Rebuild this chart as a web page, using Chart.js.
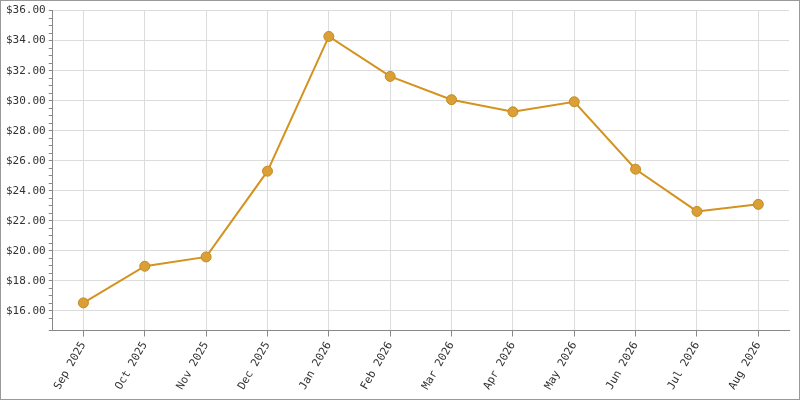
<!DOCTYPE html>
<html><head><script src="https://cdn.jsdelivr.net/npm/chart.js"></script>
<style>html,body{margin:0;padding:0;background:#fff}#w{width:798px;height:398px;border:1px solid #999;position:relative}</style>
</head><body><div id="w"><canvas id="c"></canvas></div>
<script>
const categories=["Sep 2025","Oct 2025","Nov 2025","Dec 2025","Jan 2026","Feb 2026","Mar 2026","Apr 2026","May 2026","Jun 2026","Jul 2026","Aug 2026"];
const prices=[16.54,18.98,19.6,25.31,34.28,31.62,30.07,29.26,29.93,25.44,22.63,23.1];
const isMajor=v=>Math.abs(v/2-Math.round(v/2))<1e-6;
new Chart(document.getElementById('c'),{type:'line',
data:{labels:categories,datasets:[{data:prices,borderColor:'#d4921f',borderWidth:2,backgroundColor:'#dba035',pointBorderColor:'#c48a22',pointBackgroundColor:'#dba035',pointRadius:5,pointBorderWidth:1,tension:0}]},
options:{responsive:true,maintainAspectRatio:false,animation:false,
layout:{padding:{top:8,right:10,left:2,bottom:4}},
plugins:{legend:{display:false},tooltip:{enabled:false}},
scales:{
x:{offset:true,grid:{color:'#dcdcdc',tickColor:'#888',tickLength:6,offset:false},border:{color:'#888'},
ticks:{color:'#333',font:{family:'DejaVu Sans Mono',size:11},maxRotation:60,minRotation:60}},
y:{min:14.7,max:36,grid:{color:c=>isMajor(c.tick.value)?'#dcdcdc':'transparent',tickColor:'#888',tickLength:4},border:{color:'#888'},
ticks:{stepSize:0.5,autoSkip:false,color:'#333',font:{family:'DejaVu Sans Mono',size:11},
callback:v=>isMajor(v)?'$'+v.toFixed(2):''}}}}});
</script></body></html>
